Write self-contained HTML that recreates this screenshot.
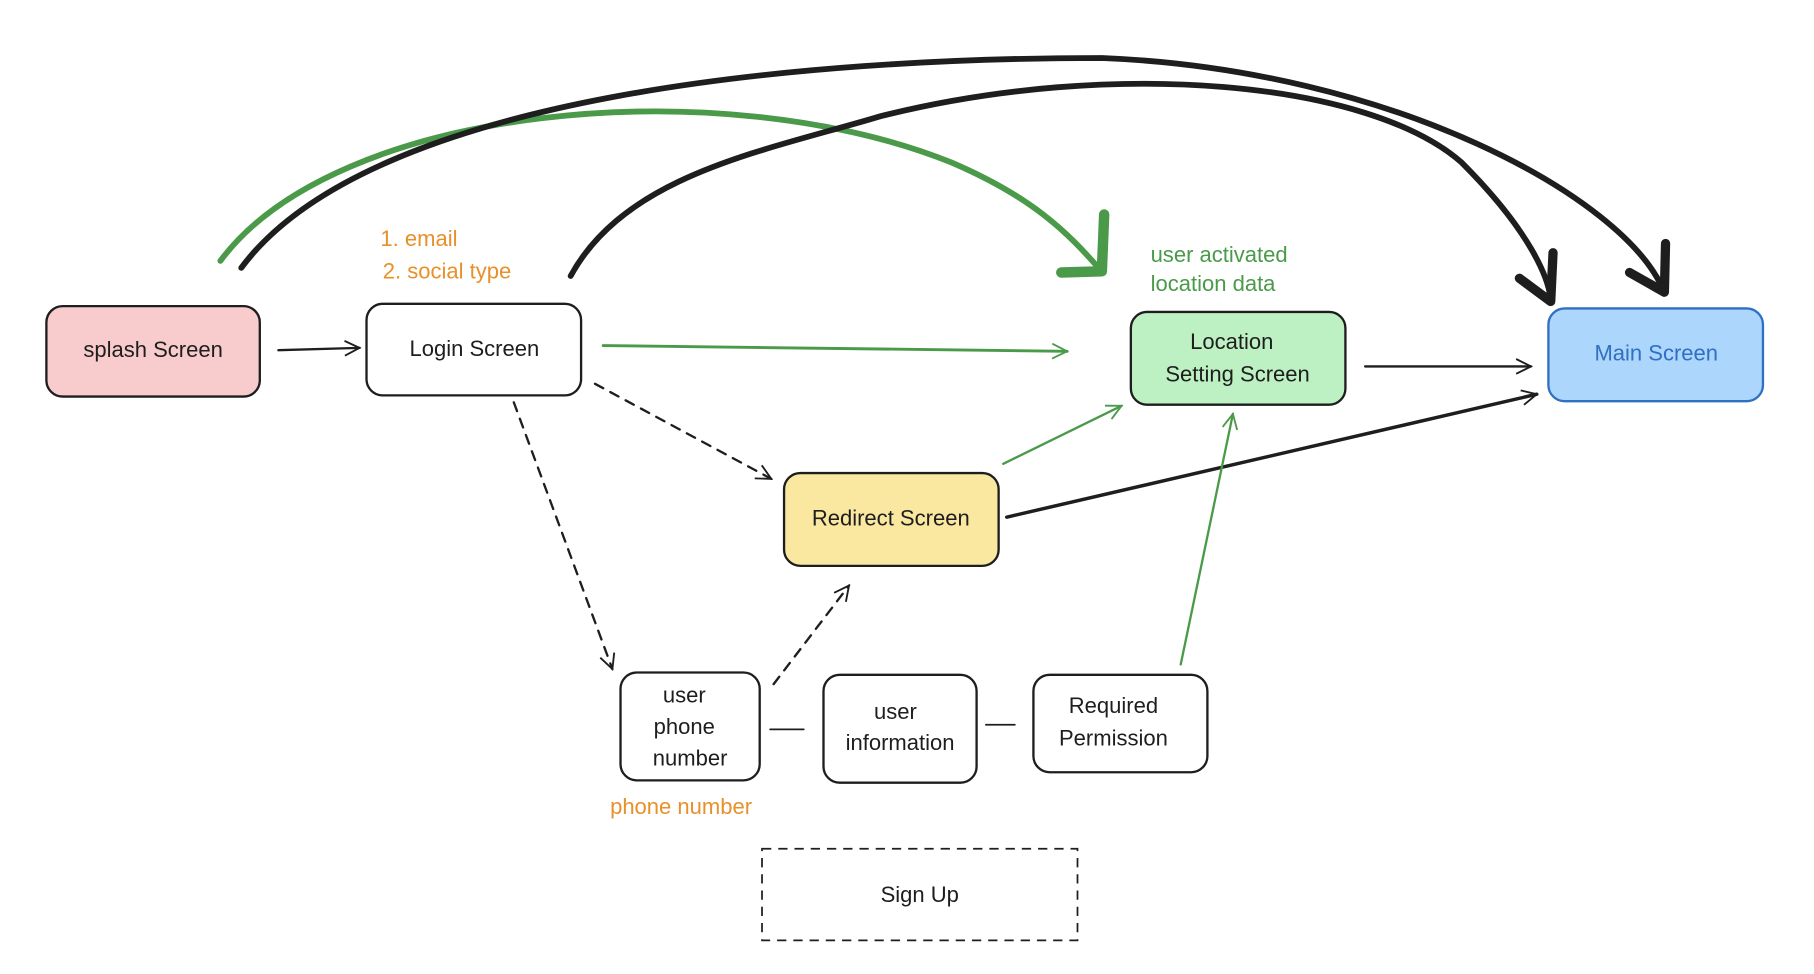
<!DOCTYPE html>
<html><head><style>
html,body{margin:0;padding:0;background:#fff;}
svg{display:block}
text{font-family:"Liberation Sans",sans-serif;font-size:19px;fill:#1e1e1e;text-anchor:middle;dominant-baseline:middle}
</style></head><body>
<svg width="1814" height="974" viewBox="0 0 1564 840" preserveAspectRatio="none" xmlns="http://www.w3.org/2000/svg">
<defs>
<marker id="ab" viewBox="0 0 20 20" refX="18" refY="10" markerWidth="16" markerHeight="16" markerUnits="userSpaceOnUse" orient="auto"><path d="M2 2 L18 10 L2 18" fill="none" stroke="#1e1e1e" stroke-width="2"/></marker>
<marker id="ag" viewBox="0 0 20 20" refX="18" refY="10" markerWidth="16" markerHeight="16" markerUnits="userSpaceOnUse" orient="auto"><path d="M2 2 L18 10 L2 18" fill="none" stroke="#4a9a4a" stroke-width="2"/></marker>
</defs>
<g stroke="#1e1e1e" stroke-width="2">
<rect x="40" y="264" width="184" height="78" rx="14" fill="#f8cccc"/>
<rect x="316" y="262" width="185" height="79" rx="14" fill="#fff"/>
<rect x="975" y="269" width="185" height="80" rx="14" fill="#bdf0c2"/>
<rect x="1335" y="266" width="185" height="80" rx="14" fill="#acd6fb" stroke="#2f6fc4"/>
<rect x="676" y="408" width="185" height="80" rx="14" fill="#fbe8a0"/>
<rect x="535" y="580" width="120" height="93" rx="14" fill="#fff"/>
<rect x="710" y="582" width="132" height="93" rx="14" fill="#fff"/>
<rect x="891" y="582" width="150" height="84" rx="14" fill="#fff"/>
<rect x="657" y="732" width="272" height="79" fill="none" stroke-width="1.5" stroke-dasharray="8 6"/>
</g>
<text x="132" y="303">splash Screen</text>
<text x="409" y="302">Login Screen</text>
<text x="1062" y="296">Location</text>
<text x="1067" y="324">Setting Screen</text>
<text x="1428" y="306" style="fill:#2f6fc4">Main Screen</text>
<text x="768" y="448">Redirect Screen</text>
<text x="590" y="601">user</text>
<text x="590" y="628">phone</text>
<text x="595" y="655">number</text>
<text x="772" y="615">user</text>
<text x="776" y="642">information</text>
<text x="960" y="610">Required</text>
<text x="960" y="638">Permission</text>
<text x="793" y="773">Sign Up</text>
<text x="328" y="207" style="fill:#e8902a;text-anchor:start">1. email</text>
<text x="330" y="235" style="fill:#e8902a;text-anchor:start">2. social type</text>
<text x="992" y="221" style="fill:#4a9a4a;text-anchor:start">user activated</text>
<text x="992" y="246" style="fill:#4a9a4a;text-anchor:start">location data</text>
<text x="526" y="697" style="fill:#e8902a;text-anchor:start">phone number</text>
<g fill="none" stroke-linecap="round">
<path d="M240 302 L310 300" stroke="#1e1e1e" stroke-width="2" marker-end="url(#ab)"/>
<path d="M520 298 L920 303" stroke="#4a9a4a" stroke-width="2.5" marker-end="url(#ag)"/>
<path d="M1177 316 L1320 316" stroke="#1e1e1e" stroke-width="2" marker-end="url(#ab)"/>
<path d="M868 446 L1325 340" stroke="#1e1e1e" stroke-width="3" marker-end="url(#ab)"/>
<path d="M865 400 L967 350" stroke="#4a9a4a" stroke-width="2" marker-end="url(#ag)"/>
<path d="M1018 573 L1063 357" stroke="#4a9a4a" stroke-width="2" marker-end="url(#ag)"/>
<path d="M513 331 L665 413" stroke="#1e1e1e" stroke-width="2" stroke-dasharray="8 7" marker-end="url(#ab)"/>
<path d="M443 347 L528 577" stroke="#1e1e1e" stroke-width="2" stroke-dasharray="8 7" marker-end="url(#ab)"/>
<path d="M667 590 L732 505" stroke="#1e1e1e" stroke-width="2" stroke-dasharray="8 7" marker-end="url(#ab)"/>
<path d="M664 629 L693 629 M850 625 L875 625" stroke="#1e1e1e" stroke-width="1.5"/>
<path d="M190 225 C290 90 620 60 820 140 C890 170 920 200 948 232" stroke="#4a9a4a" stroke-width="5"/>
<path d="M952 185 L950 234 L915 235" stroke="#4a9a4a" stroke-width="9" stroke-linejoin="round"/>
<path d="M208 231 C320 80 700 50 950 50 C1200 60 1400 170 1434 250" stroke="#1e1e1e" stroke-width="5"/>
<path d="M1436 210 L1435 252 L1405 235" stroke="#1e1e1e" stroke-width="8" stroke-linejoin="round"/>
<path d="M492 238 C540 150 660 130 760 100 C960 50 1180 70 1260 140 C1320 200 1335 240 1337 258" stroke="#1e1e1e" stroke-width="5"/>
<path d="M1339 218 L1337 260 L1310 240" stroke="#1e1e1e" stroke-width="8" stroke-linejoin="round"/>
</g>
</svg>
</body></html>
